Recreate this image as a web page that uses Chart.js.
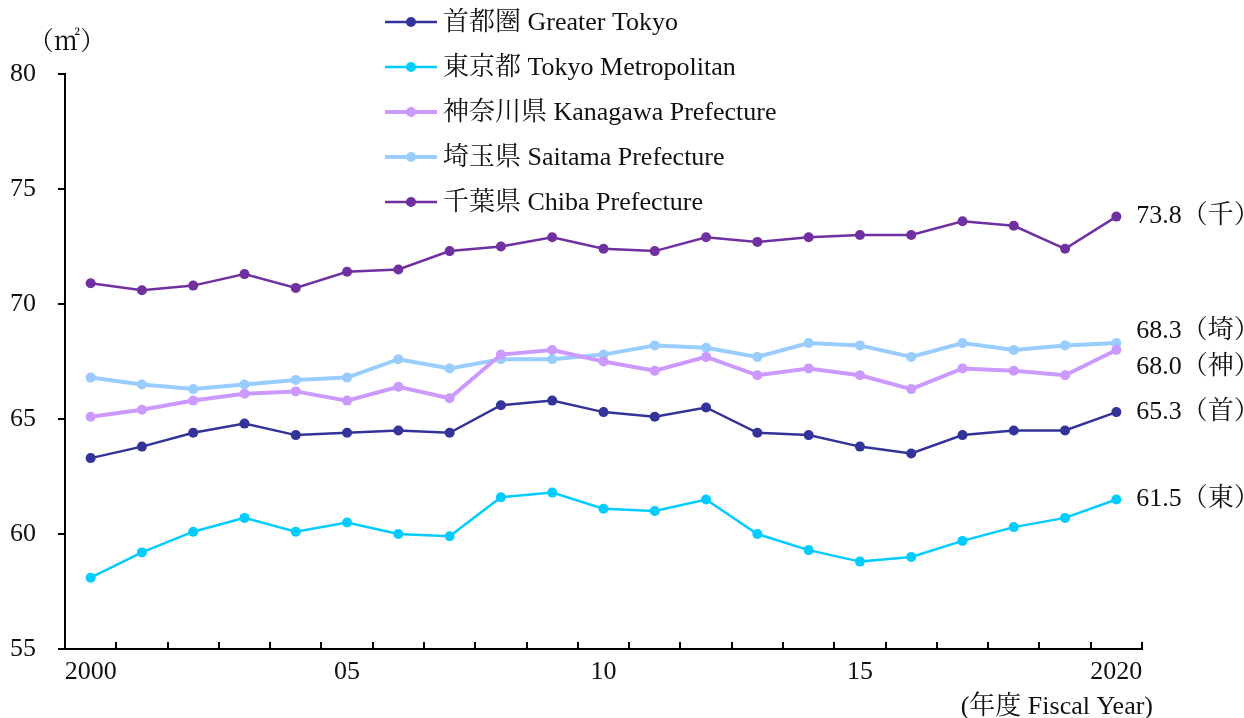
<!DOCTYPE html>
<html lang="ja">
<head>
    <meta charset="UTF-8">
    <title>Floor area by prefecture</title>
    <script src="https://cdn.jsdelivr.net/npm/chart.js"></script>
    <style>
        body {
            margin: 0;
            background-color: #ffffff;
        }
        #wrap {
            width: 1244px;
            height: 718px;
            position: relative;
        }
    </style>
</head>
<body>
    <div id="wrap">
        <canvas id="areaChart"></canvas>
    </div>

    <script>
        // fiscal years on the x axis
        const years = ['2000', '2001', '2002', '2003', '2004', '2005', '2006', '2007', '2008', '2009', '2010',
                       '2011', '2012', '2013', '2014', '2015', '2016', '2017', '2018', '2019', '2020'];
        const xTickLabels = ['2000', '', '', '', '', '05', '', '', '', '', '10',
                             '', '', '', '', '15', '', '', '', '', '2020'];
        const yTicks = [55, 60, 65, 70, 75, 80];

        // average floor area (m2)
        const greaterTokyo = [63.3, 63.8, 64.4, 64.8, 64.3, 64.4, 64.5, 64.4, 65.6, 65.8, 65.3,
                              65.1, 65.5, 64.4, 64.3, 63.8, 63.5, 64.3, 64.5, 64.5, 65.3];
        const tokyoMetro = [58.1, 59.2, 60.1, 60.7, 60.1, 60.5, 60.0, 59.9, 61.6, 61.8, 61.1,
                            61.0, 61.5, 60.0, 59.3, 58.8, 59.0, 59.7, 60.3, 60.7, 61.5];
        const kanagawa = [65.1, 65.4, 65.8, 66.1, 66.2, 65.8, 66.4, 65.9, 67.8, 68.0, 67.5,
                          67.1, 67.7, 66.9, 67.2, 66.9, 66.3, 67.2, 67.1, 66.9, 68.0];
        const saitama = [66.8, 66.5, 66.3, 66.5, 66.7, 66.8, 67.6, 67.2, 67.6, 67.6, 67.8,
                         68.2, 68.1, 67.7, 68.3, 68.2, 67.7, 68.3, 68.0, 68.2, 68.3];
        const chiba = [70.9, 70.6, 70.8, 71.3, 70.7, 71.4, 71.5, 72.3, 72.5, 72.9, 72.4,
                       72.3, 72.9, 72.7, 72.9, 73.0, 73.0, 73.6, 73.4, 72.4, 73.8];

        const seriesNames = ['首都圏 Greater Tokyo', '東京都 Tokyo Metropolitan', '神奈川県 Kanagawa Prefecture',
                             '埼玉県 Saitama Prefecture', '千葉県 Chiba Prefecture'];
        const endTags = ['首', '東', '神', '埼', '千'];

        const colors = ['#333399', '#00CCFF', '#CC99FF', '#99CCFF', '#7030A0'];
        const widths = [2.5, 2.5, 4, 4, 2.5];
        const labelNudge = [0, 0, 17, -12, 0];   // keep the right-hand labels apart

        const FONT = '"Liberation Serif", "Noto Serif CJK JP", "Noto Sans CJK JP", serif';

        Chart.defaults.font.family = FONT;
        Chart.defaults.font.size = 26;
        Chart.defaults.color = '#111111';

        const seriesValues = [greaterTokyo, tokyoMetro, kanagawa, saitama, chiba];
        const datasets = seriesValues.map((vals, i) => ({
            label: seriesNames[i],
            data: vals,
            borderColor: colors[i],
            backgroundColor: colors[i],
            borderWidth: widths[i],
            pointRadius: 5,
            pointHoverRadius: 5,
            pointBorderWidth: 0,
            tension: 0
        }));

        // legend, unit, axis title, end labels and inward x ticks
        const decorations = {
            id: 'decorations',
            afterDraw(chart) {
                const ctx = chart.ctx;
                const xs = chart.scales.x;
                const ys = chart.scales.y;
                const area = chart.chartArea;
                ctx.save();

                // small ticks on the x axis, pointing up, at category edges
                const step = xs.getPixelForValue(1) - xs.getPixelForValue(0);
                ctx.strokeStyle = '#000';
                ctx.lineWidth = 2;
                for (let i = 0; i <= years.length; i++) {
                    const x = Math.round(xs.getPixelForValue(0) + (i - 0.5) * step);
                    ctx.beginPath();
                    ctx.moveTo(x, area.bottom);
                    ctx.lineTo(x, area.bottom - 7);
                    ctx.stroke();
                }

                ctx.font = '26px ' + FONT;
                ctx.fillStyle = '#111';
                ctx.textBaseline = 'middle';

                // legend list
                chart.data.datasets.forEach((ds, i) => {
                    const y = 22 + i * 45;
                    ctx.strokeStyle = ds.borderColor;
                    ctx.lineWidth = ds.borderWidth;
                    ctx.beginPath();
                    ctx.moveTo(385, y);
                    ctx.lineTo(437, y);
                    ctx.stroke();
                    ctx.fillStyle = ds.borderColor;
                    ctx.beginPath();
                    ctx.arc(411, y, 5, 0, Math.PI * 2);
                    ctx.fill();
                    ctx.fillStyle = '#111';
                    ctx.textAlign = 'left';
                    ctx.fillText(ds.label, 443, y + 1);
                });

                // labels at the end of each line
                const last = years.length - 1;
                chart.data.datasets.forEach((ds, i) => {
                    const v = ds.data[last];
                    const x = xs.getPixelForValue(last) + 20;
                    const y = ys.getPixelForValue(v) + labelNudge[i];
                    ctx.textAlign = 'left';
                    ctx.fillText(v.toFixed(1) + '（' + endTags[i] + '）', x, y);
                });

                // unit and axis title
                ctx.textAlign = 'left';
                ctx.fillText('（㎡）', 28, 43);
                ctx.textAlign = 'right';
                ctx.fillText('(年度 Fiscal Year)', 1153, 707);

                ctx.restore();
            }
        };

        const ctx = document.getElementById('areaChart').getContext('2d');
        new Chart(ctx, {
            type: 'line',
            data: {
                labels: years,
                datasets: datasets
            },
            options: {
                responsive: true,
                maintainAspectRatio: false,
                animation: false,
                layout: {
                    padding: { top: 74, right: 102, bottom: 0, left: 0 }
                },
                plugins: {
                    legend: { display: false },
                    tooltip: { enabled: false }
                },
                scales: {
                    x: {
                        offset: true,
                        grid: { offset: true, drawOnChartArea: false, drawTicks: false },
                        border: { color: '#000', width: 2 },
                        ticks: {
                            autoSkip: false,
                            maxRotation: 0,
                            padding: 8,
                            callback: (val, idx) => xTickLabels[idx]
                        },
                        afterFit: (scale) => { scale.height = 69; }
                    },
                    y: {
                        min: 55,
                        max: 80,
                        afterBuildTicks: (scale) => { scale.ticks = yTicks.map(v => ({ value: v })); },
                        grid: { drawOnChartArea: false, tickLength: 7, color: '#000', lineWidth: 2 },
                        border: { color: '#000', width: 2 },
                        ticks: { padding: 22 },
                        afterFit: (scale) => { scale.width = 65; }
                    }
                }
            },
            plugins: [decorations]
        });
    </script>
</body>
</html>
